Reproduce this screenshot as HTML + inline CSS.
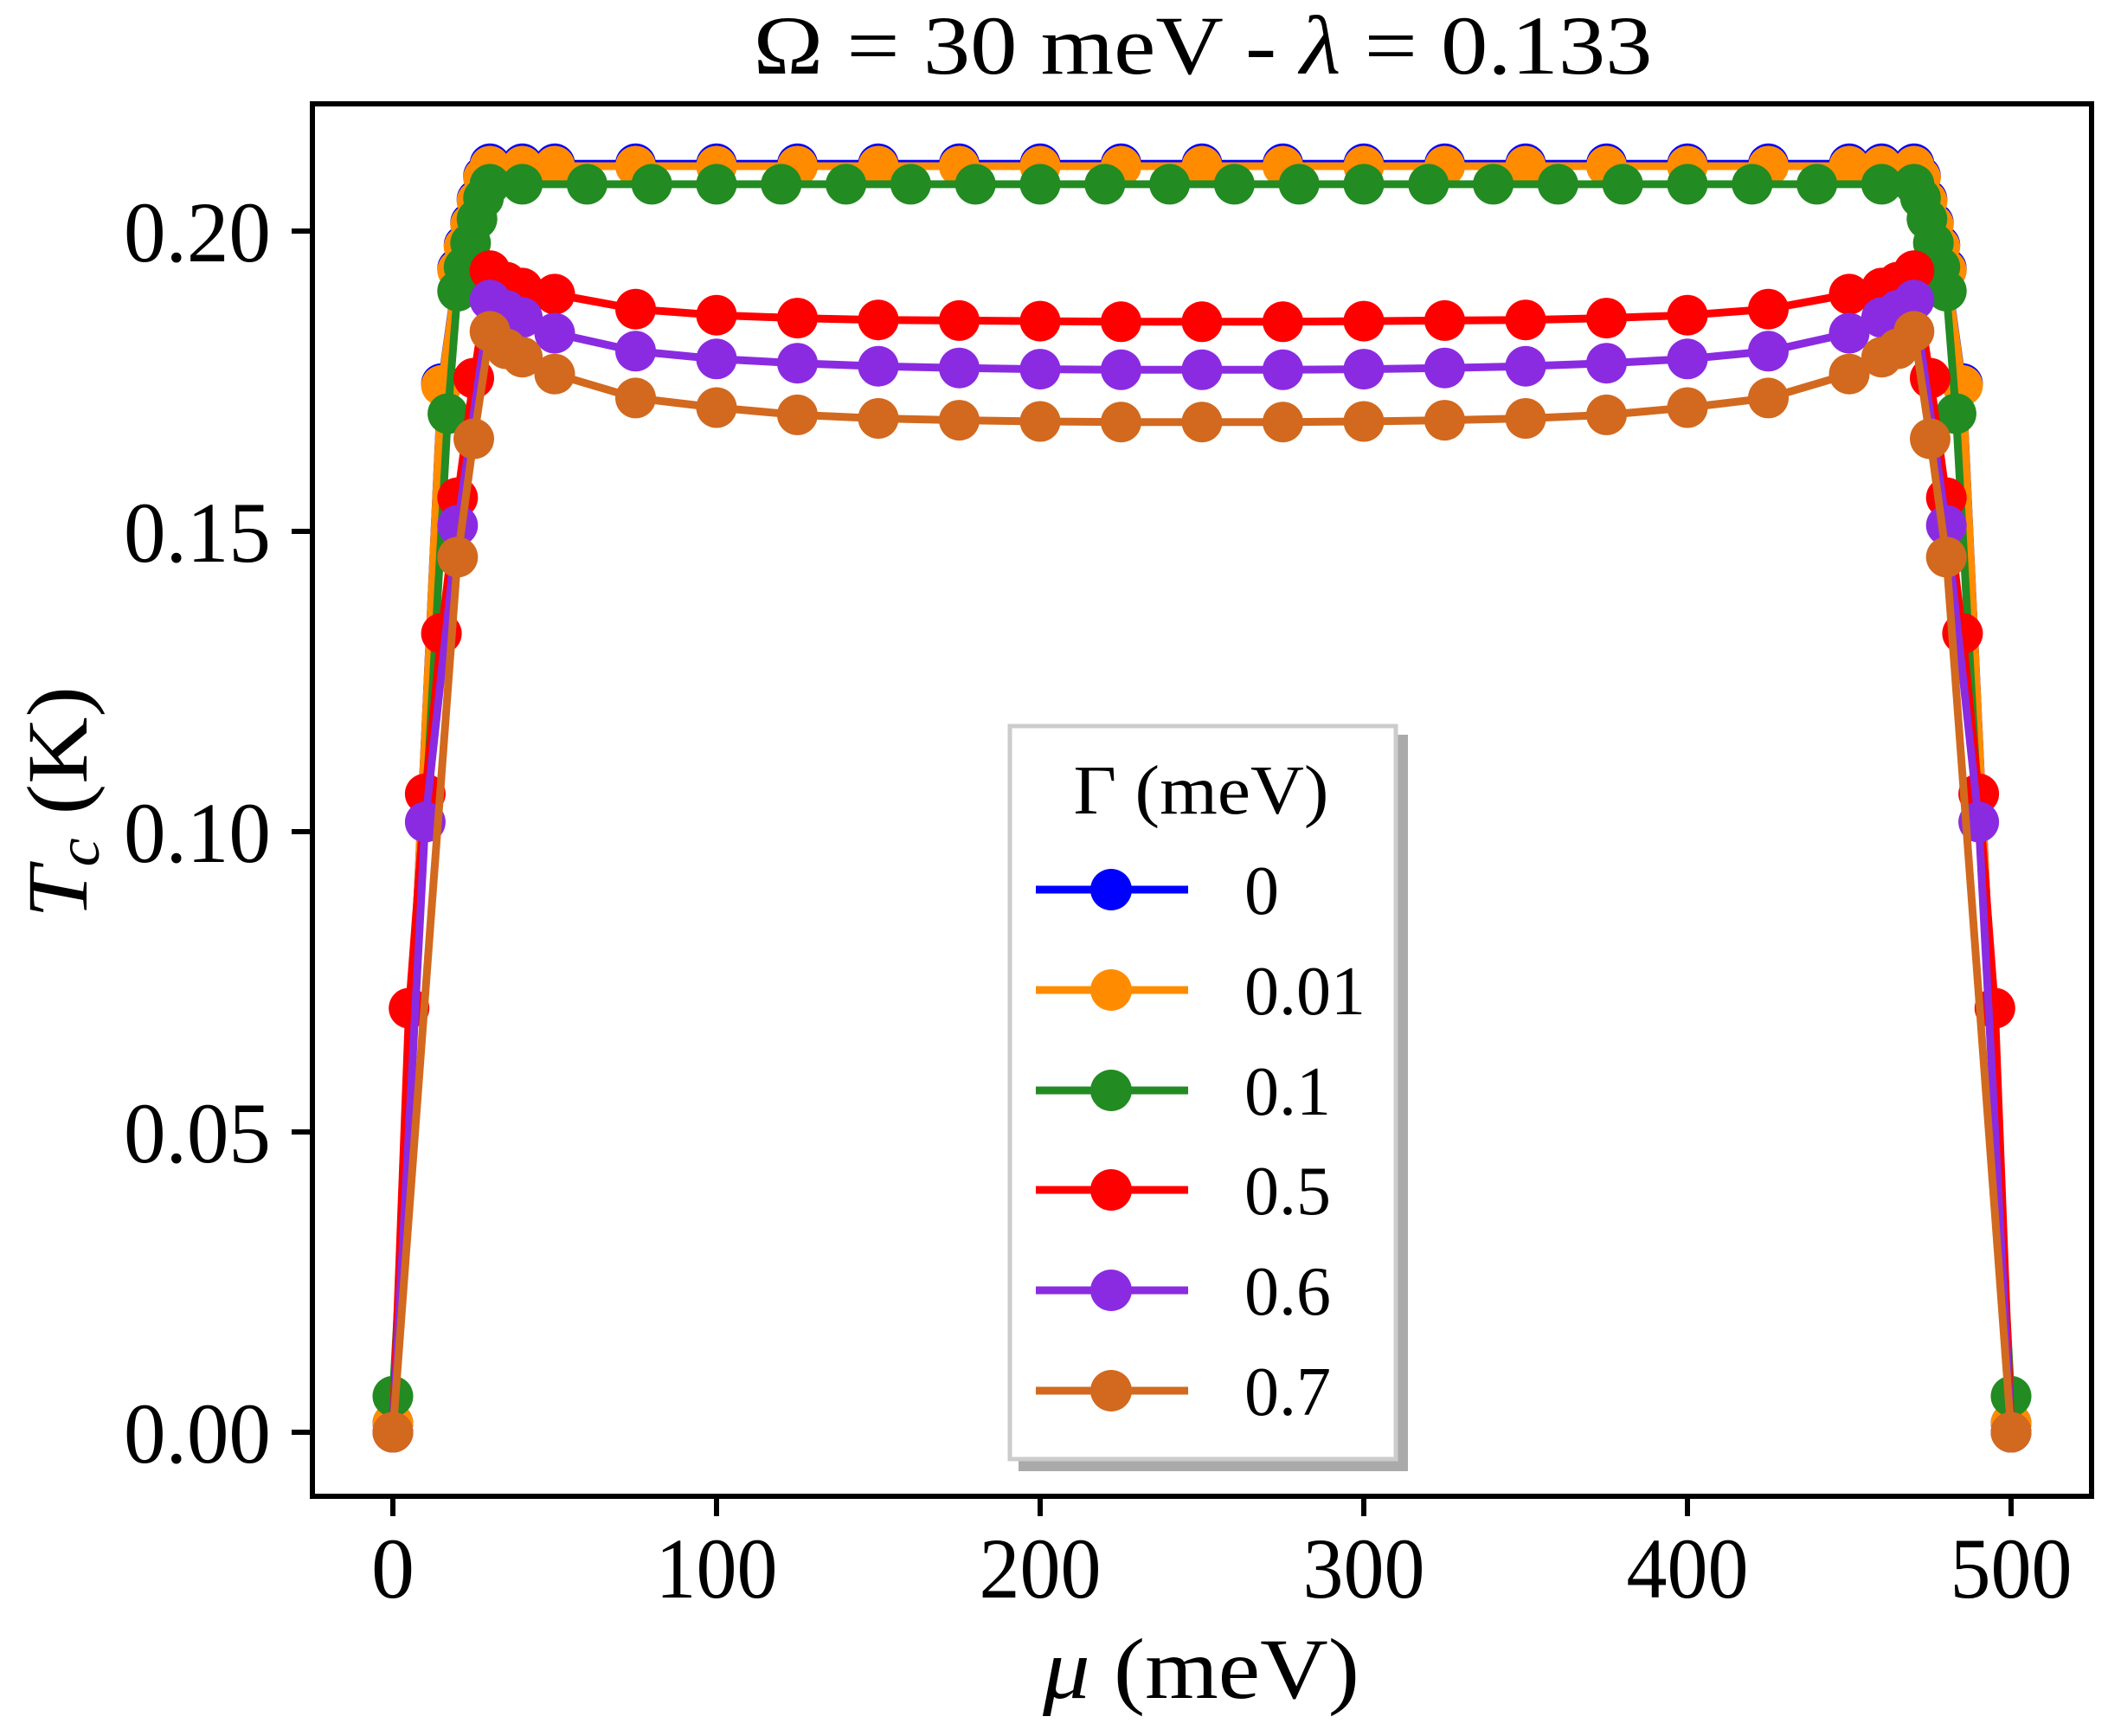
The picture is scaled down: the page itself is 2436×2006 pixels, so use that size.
<!DOCTYPE html>
<html><head><meta charset="utf-8"><style>
html,body{margin:0;padding:0;background:#fff;}
svg{display:block;}
text{font-family:"Liberation Serif",serif;fill:#000;}
</style></head><body>
<svg id="s" width="2436" height="2006" viewBox="0 0 2436 2006" xmlns="http://www.w3.org/2000/svg">
<rect x="0" y="0" width="2436" height="2006" fill="#fff"/>
<g id="data"></g>
<rect x="361" y="120" width="2056" height="1609" fill="none" stroke="#000" stroke-width="6"/>
<g stroke="#000" stroke-width="6">
<line x1="337" y1="1655" x2="361" y2="1655"/>
<line x1="337" y1="1308" x2="361" y2="1308"/>
<line x1="337" y1="961" x2="361" y2="961"/>
<line x1="337" y1="614" x2="361" y2="614"/>
<line x1="337" y1="267" x2="361" y2="267"/>
<line x1="454" y1="1729" x2="454" y2="1752"/>
<line x1="828" y1="1729" x2="828" y2="1752"/>
<line x1="1202" y1="1729" x2="1202" y2="1752"/>
<line x1="1576" y1="1729" x2="1576" y2="1752"/>
<line x1="1950" y1="1729" x2="1950" y2="1752"/>
<line x1="2324" y1="1729" x2="2324" y2="1752"/>
</g>
<g font-size="100" text-anchor="end">
<text x="313" y="1690" textLength="170" lengthAdjust="spacingAndGlyphs">0.00</text>
<text x="313" y="1343" textLength="170" lengthAdjust="spacingAndGlyphs">0.05</text>
<text x="313" y="996" textLength="170" lengthAdjust="spacingAndGlyphs">0.10</text>
<text x="313" y="649" textLength="170" lengthAdjust="spacingAndGlyphs">0.15</text>
<text x="313" y="302" textLength="170" lengthAdjust="spacingAndGlyphs">0.20</text>
</g>
<g font-size="100" text-anchor="middle">
<text x="454" y="1846">0</text>
<text x="828" y="1846" textLength="141" lengthAdjust="spacingAndGlyphs">100</text>
<text x="1202" y="1846" textLength="141" lengthAdjust="spacingAndGlyphs">200</text>
<text x="1576" y="1846" textLength="141" lengthAdjust="spacingAndGlyphs">300</text>
<text x="1950" y="1846" textLength="141" lengthAdjust="spacingAndGlyphs">400</text>
<text x="2324" y="1846" textLength="141" lengthAdjust="spacingAndGlyphs">500</text>
</g>
<text x="1388" y="1962" font-size="100" text-anchor="middle" textLength="366" lengthAdjust="spacingAndGlyphs"><tspan font-style="italic">μ</tspan> (meV)</text>
<text transform="translate(100,927) rotate(-90)" font-size="100" text-anchor="middle" textLength="268" lengthAdjust="spacingAndGlyphs"><tspan font-style="italic">T</tspan><tspan font-style="italic" font-size="70" dy="14">c</tspan><tspan dy="-14"> (K)</tspan></text>
<text x="1390" y="85" font-size="96" text-anchor="middle" textLength="1039" lengthAdjust="spacingAndGlyphs">Ω = 30 meV - <tspan font-style="italic">λ</tspan> = 0.133</text>
<rect x="1177" y="849" width="450" height="851" fill="#aaa"/>
<rect x="1167" y="839" width="446" height="847" fill="#fff" stroke="#ccc" stroke-width="5"/>
<text x="1388" y="940" font-size="80" text-anchor="middle" textLength="295" lengthAdjust="spacingAndGlyphs">Γ (meV)</text>
<g id="leg"></g>
</svg>
<script>
var X=function(m){return 454+m*3.74;}, Y=function(t){return 1655-t*6940;};
function sym(left,mid){var pts=left.slice();mid.forEach(function(p){pts.push(p);});
 var m=pts.slice().reverse().filter(function(p){return p[0]<250;}).map(function(p){return[500-p[0],p[1]];});
 return pts.concat(m);}
function flat(v,grid){return grid.map(function(m){return[m,v];});}
var g25=[75,100,125,150,175,200,225,250];
var g20=[60,80,100,120,140,160,180,200,220,240];
var blue=sym([[0,0.0015],[15,0.1746],[20,0.1938],[22,0.1977],[24,0.2014],[26,0.2053],[28,0.2092],[30,0.2112],[40,0.2112],[50,0.2112]],flat(0.2112,g25));
var orange=sym([[0,0.0015],[15,0.1743],[20,0.1935],[22,0.1974],[24,0.2011],[26,0.205],[28,0.2089],[30,0.2108],[40,0.2108],[50,0.2108]],flat(0.2108,g25));
var green=sym([[0,0.006],[17,0.1696],[20,0.19],[22,0.194],[24,0.198],[26,0.202],[28,0.2055],[30,0.2078],[40,0.2078]],flat(0.2078,g20));
var red=sym([[0,0],[5,0.0706],[10,0.1063],[15,0.133],[20,0.1556],[25,0.1755],[30,0.1934],[35,0.1915],[40,0.1905],[50,0.1895]],[[75,0.1870],[100,0.1860],[125,0.1855],[150,0.1852],[175,0.1851],[200,0.1850],[225,0.1849],[250,0.1849]]);
var purple=sym([[0,0],[10,0.1016],[20,0.151],[30,0.1885],[35,0.1868],[40,0.1856],[50,0.1830]],[[75,0.1800],[100,0.1787],[125,0.1780],[150,0.1775],[175,0.1772],[200,0.1770],[225,0.1769],[250,0.1769]]);
var brown=sym([[0,0],[20,0.1457],[25,0.1654],[30,0.1833],[35,0.1804],[40,0.179],[50,0.1762]],[[75,0.1722],[100,0.1706],[125,0.1694],[150,0.1688],[175,0.1685],[200,0.1683],[225,0.1682],[250,0.1682]]);
var ser=[[blue,"#0000ff"],[orange,"#ff8c00"],[green,"#228b22"],[red,"#ff0000"],[purple,"#8a2be2"],[brown,"#d2691e"]];
var h="";
ser.forEach(function(s){var d=s[0].map(function(p){return X(p[0]).toFixed(1)+","+Y(p[1]).toFixed(1);}).join(" ");
 h+='<polyline points="'+d+'" fill="none" stroke="'+s[1]+'" stroke-width="9" stroke-linejoin="round"/>';
 s[0].forEach(function(p){h+='<circle cx="'+X(p[0]).toFixed(1)+'" cy="'+Y(p[1]).toFixed(1)+'" r="23.5" fill="'+s[1]+'"/>';});});
document.getElementById("data").innerHTML=h;
var labs=["0","0.01","0.1","0.5","0.6","0.7"],ys=[1028,1144,1260,1375,1491,1607],l="";
ser.forEach(function(s,i){l+='<line x1="1197" y1="'+ys[i]+'" x2="1373" y2="'+ys[i]+'" stroke="'+s[1]+'" stroke-width="9"/><circle cx="1284" cy="'+ys[i]+'" r="24" fill="'+s[1]+'"/><text x="1438" y="'+(ys[i]+28)+'" font-size="80">'+labs[i]+'</text>';});
document.getElementById("leg").innerHTML=l;
</script>
</body></html>
